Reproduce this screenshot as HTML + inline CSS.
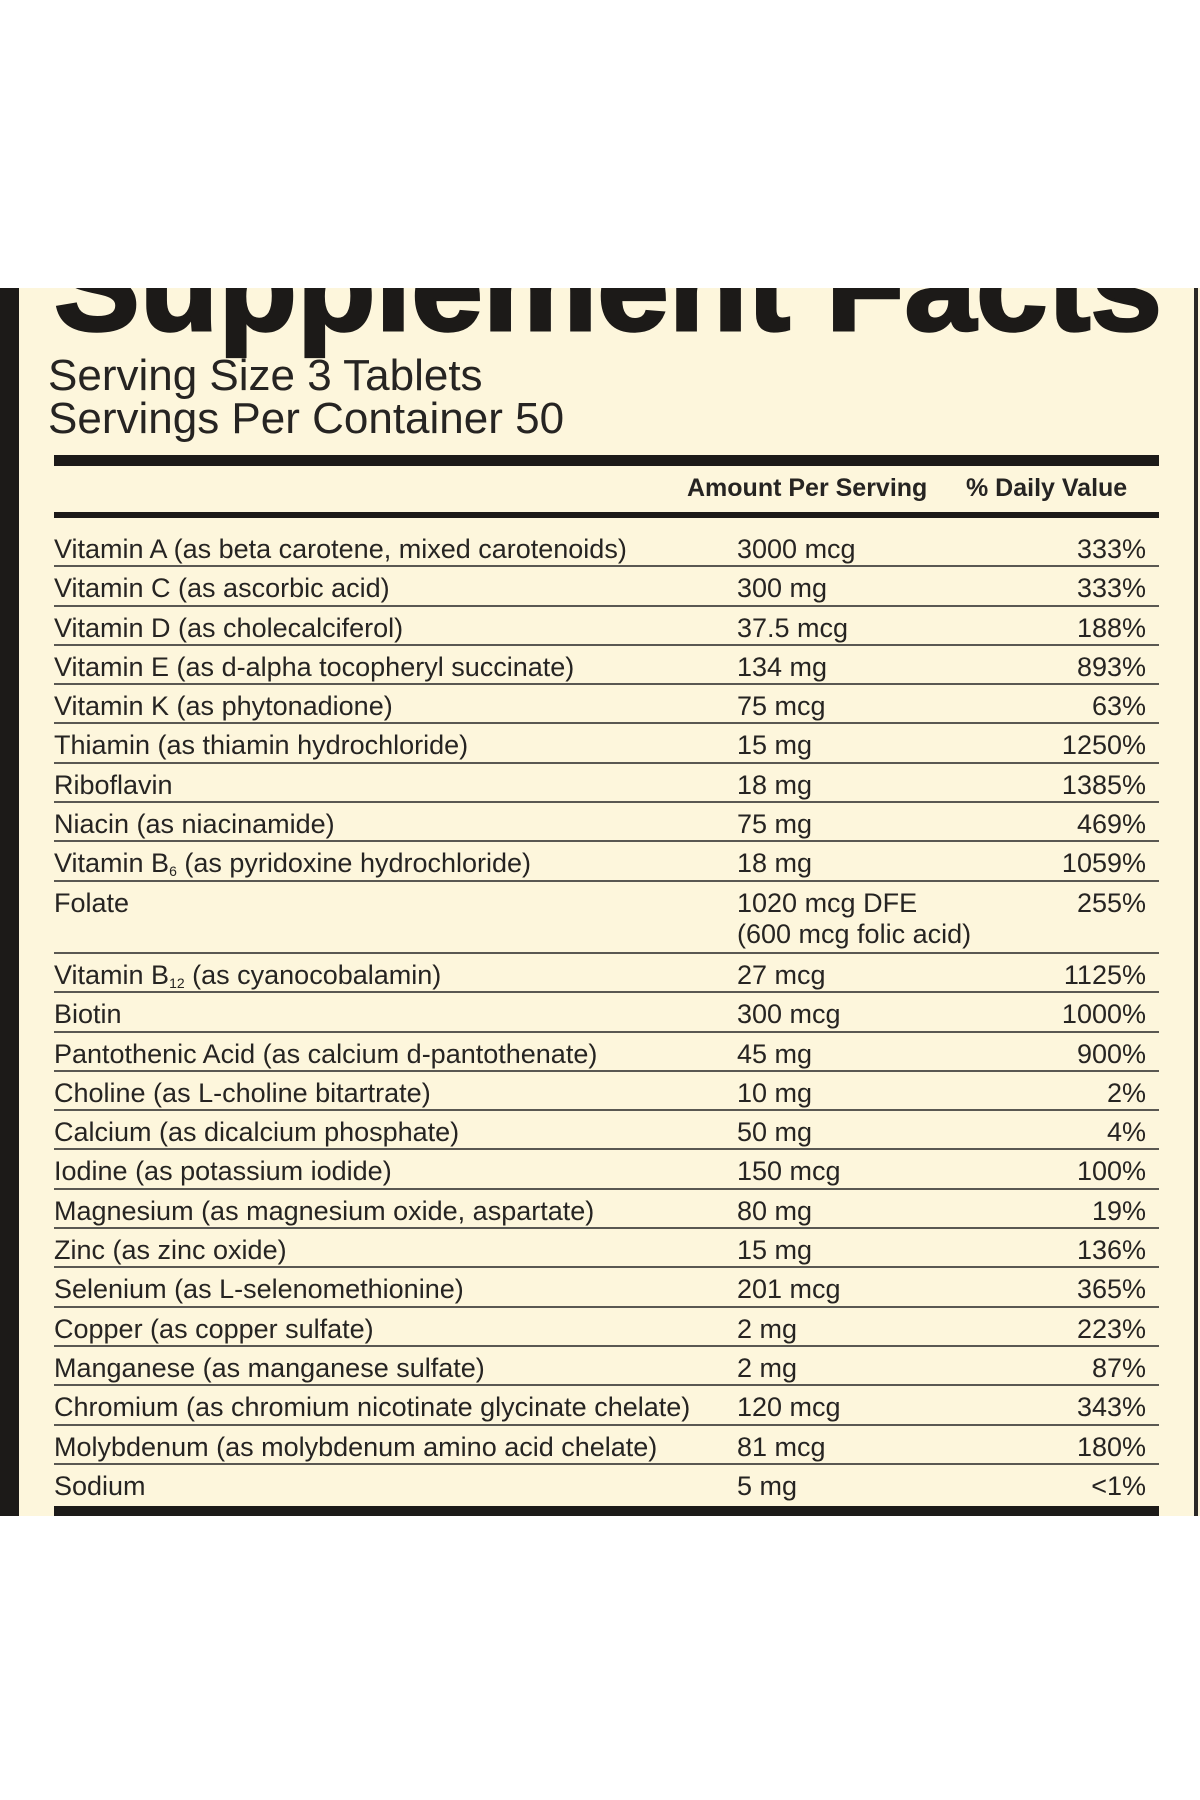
<!DOCTYPE html>
<html><head><meta charset="utf-8"><style>
body{margin:0;width:1200px;height:1800px;background:#fff;position:relative;overflow:hidden;font-family:"Liberation Sans",Arial,sans-serif;color:#262422}
#panel{position:absolute;left:0;top:288px;width:1200px;height:1228px;background:#fdf6dc;overflow:hidden}
#lbar{position:absolute;left:0;top:0;width:19px;height:100%;background:#1c1a18}
#rbar{position:absolute;right:2px;top:0;width:4px;height:100%;background:#2a2826}
#title{position:absolute;left:0;top:-288px}
.ss{position:absolute;left:48px;font-size:44px;line-height:1}
.rule{position:absolute;left:54px;width:1105px;background:#1c1a18}
.hd{position:absolute;top:188px;font-size:25px;font-weight:bold;line-height:1}
#rows{position:absolute;left:54px;top:240px;width:1105px}
.row{position:relative;height:37.3px;border-bottom:2px solid #5a5852;font-size:27px}
.row span{position:absolute;top:6px;line-height:1.15}
.n{left:0}.a{left:683px}.p{right:13px}
.row.tall{height:70.3px}
sub{font-size:14px;vertical-align:-4px}
</style></head><body>
<div id="panel">
<div id="lbar"></div>
<div id="rbar"></div>
<svg id="title" width="1200" height="360"><text x="54" y="330" font-family="Liberation Sans, Arial, sans-serif" font-weight="bold" font-size="128" textLength="1108" lengthAdjust="spacingAndGlyphs" fill="#1c1a18" stroke="#1c1a18" stroke-width="3">Supplement Facts</text></svg>
<div class="ss" style="top:66px">Serving Size 3 Tablets</div>
<div class="ss" style="top:109px">Servings Per Container 50</div>
<div class="rule" style="top:167px;height:11px"></div>
<div class="hd" style="left:687px">Amount Per Serving</div>
<div class="hd" style="left:966px">% Daily Value</div>
<div class="rule" style="top:224px;height:6px"></div>
<div id="rows">
<div class="row"><span class="n">Vitamin A (as beta carotene, mixed carotenoids)</span><span class="a">3000 mcg</span><span class="p">333%</span></div>
<div class="row"><span class="n">Vitamin C (as ascorbic acid)</span><span class="a">300 mg</span><span class="p">333%</span></div>
<div class="row"><span class="n">Vitamin D (as cholecalciferol)</span><span class="a">37.5 mcg</span><span class="p">188%</span></div>
<div class="row"><span class="n">Vitamin E (as d-alpha tocopheryl succinate)</span><span class="a">134 mg</span><span class="p">893%</span></div>
<div class="row"><span class="n">Vitamin K (as phytonadione)</span><span class="a">75 mcg</span><span class="p">63%</span></div>
<div class="row"><span class="n">Thiamin (as thiamin hydrochloride)</span><span class="a">15 mg</span><span class="p">1250%</span></div>
<div class="row"><span class="n">Riboflavin</span><span class="a">18 mg</span><span class="p">1385%</span></div>
<div class="row"><span class="n">Niacin (as niacinamide)</span><span class="a">75 mg</span><span class="p">469%</span></div>
<div class="row"><span class="n">Vitamin B<sub>6</sub> (as pyridoxine hydrochloride)</span><span class="a">18 mg</span><span class="p">1059%</span></div>
<div class="row tall"><span class="n">Folate</span><span class="a">1020 mcg DFE<br>(600 mcg folic acid)</span><span class="p">255%</span></div>
<div class="row"><span class="n">Vitamin B<sub>12</sub> (as cyanocobalamin)</span><span class="a">27 mcg</span><span class="p">1125%</span></div>
<div class="row"><span class="n">Biotin</span><span class="a">300 mcg</span><span class="p">1000%</span></div>
<div class="row"><span class="n">Pantothenic Acid (as calcium d-pantothenate)</span><span class="a">45 mg</span><span class="p">900%</span></div>
<div class="row"><span class="n">Choline (as L-choline bitartrate)</span><span class="a">10 mg</span><span class="p">2%</span></div>
<div class="row"><span class="n">Calcium (as dicalcium phosphate)</span><span class="a">50 mg</span><span class="p">4%</span></div>
<div class="row"><span class="n">Iodine (as potassium iodide)</span><span class="a">150 mcg</span><span class="p">100%</span></div>
<div class="row"><span class="n">Magnesium (as magnesium oxide, aspartate)</span><span class="a">80 mg</span><span class="p">19%</span></div>
<div class="row"><span class="n">Zinc (as zinc oxide)</span><span class="a">15 mg</span><span class="p">136%</span></div>
<div class="row"><span class="n">Selenium (as L-selenomethionine)</span><span class="a">201 mcg</span><span class="p">365%</span></div>
<div class="row"><span class="n">Copper (as copper sulfate)</span><span class="a">2 mg</span><span class="p">223%</span></div>
<div class="row"><span class="n">Manganese (as manganese sulfate)</span><span class="a">2 mg</span><span class="p">87%</span></div>
<div class="row"><span class="n">Chromium (as chromium nicotinate glycinate chelate)</span><span class="a">120 mcg</span><span class="p">343%</span></div>
<div class="row"><span class="n">Molybdenum (as molybdenum amino acid chelate)</span><span class="a">81 mcg</span><span class="p">180%</span></div>
<div class="row" style="border-bottom:none"><span class="n">Sodium</span><span class="a">5 mg</span><span class="p">&lt;1%</span></div>
</div>
<div class="rule" style="top:1218px;height:10px"></div>
</div>
</body></html>
